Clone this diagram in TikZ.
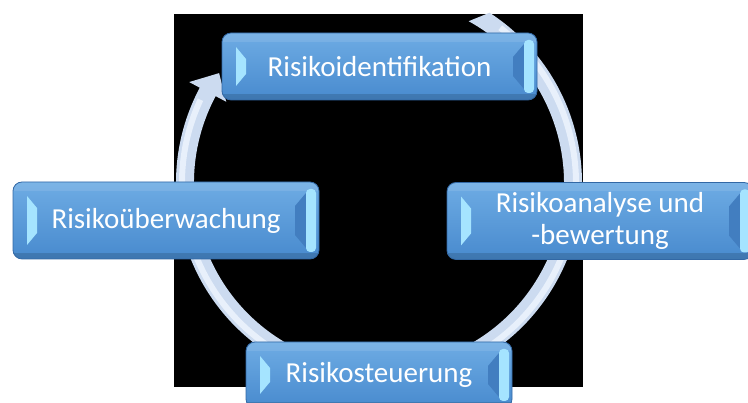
\documentclass[tikz,border=0pt]{standalone}
\usepackage{fontspec}
\setmainfont{Carlito}
\usetikzlibrary{calc, positioning}

\definecolor{boxtop}{RGB}{110,172,228}
\definecolor{boxbot}{RGB}{72,138,206}
\definecolor{boxline}{RGB}{50,104,165}
\definecolor{facetlight}{RGB}{165,228,255}
\definecolor{facetdark}{RGB}{66,126,192}
\definecolor{ringcol}{RGB}{204,219,240}
\definecolor{ringlight}{RGB}{232,240,251}

\begin{document}
\begin{tikzpicture}[x=1pt, y=1pt,
  stage/.style={rectangle, rounded corners=9pt, draw=boxline, line width=.8pt,
    top color=boxtop, bottom color=boxbot, text=white, align=center,
    font=\fontsize{29}{32}\selectfont, inner sep=0pt,
    path picture={
      \coordinate (nw) at (path picture bounding box.north west);
      \coordinate (sw) at (path picture bounding box.south west);
      \coordinate (ne) at (path picture bounding box.north east);
      \coordinate (se) at (path picture bounding box.south east);
      % light and dark bands
      \fill[white, opacity=.10, sharp corners] (nw) rectangle ($(ne)+(0,-9)$);
      \fill[black, opacity=.14, sharp corners] (sw) rectangle ($(se)+(0,6)$);
      % bevel facets
      \fill[facetlight, sharp corners] ($(nw)+(14,-14)$) -- ($(nw)+(24,-26)$) -- ($(sw)+(24,26)$) -- ($(sw)+(14,14)$) -- cycle;
      \fill[facetdark, sharp corners] ($(ne)+(-13,-11)$) -- ($(ne)+(-24,-24)$) -- ($(se)+(-24,24)$) -- ($(se)+(-13,11)$) -- cycle;
      \fill[facetlight, rounded corners=4pt] ($(ne)+(-13,-7)$) rectangle ($(se)+(-3,7)$);
    }},
  ring/.style={fill=ringcol},
  ringglow/.style={draw=ringlight, line width=6pt}]

\clip (0,0) rectangle (748,403);
\fill[black] (174,16) rectangle (583,389);

% cycle arrow
\coordinate (hub) at (379,220);
\begin{scope}[shift={(hub)}]
  \fill[ring] (57:203) arc[start angle=57, end angle=-208, radius=203]
    -- (-208:215) -- (-214.5:194) -- (-208:173) -- (-208:185)
    arc[start angle=-208, end angle=61, radius=185] -- cycle;
  \draw[ringglow] (52:197) arc[start angle=52, end angle=-205, radius=197];
\end{scope}

% stages
\node[stage, minimum width=315pt, minimum height=67pt] (ident)    at (379.5,336.5) {Risikoidentifikation};
\node[stage, minimum width=306pt, minimum height=77pt] (analysis) at (600,182)     {Risikoanalyse und\\-bewertung};
\node[stage, minimum width=266pt, minimum height=66pt] (control)  at (379,28)      {Risikosteuerung};
\node[stage, minimum width=306pt, minimum height=77pt] (monitor)  at (166,182.5)   {Risikoüberwachung};

\end{tikzpicture}
\end{document}
